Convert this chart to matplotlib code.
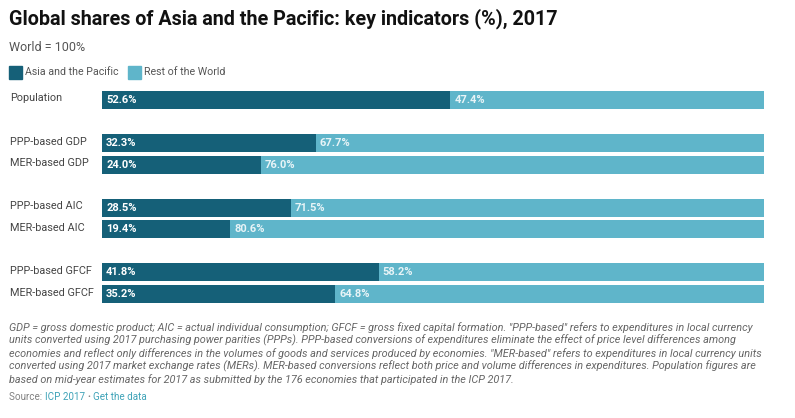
import matplotlib
matplotlib.use("Agg")
import matplotlib.pyplot as plt
from matplotlib.patches import Rectangle

W, H = 795, 418

labels = ["Population", "PPP-based GDP", "MER-based GDP", "PPP-based AIC",
          "MER-based AIC", "PPP-based GFCF", "MER-based GFCF"]
rows = [0, 2, 3, 5, 6, 8, 9]  # blank rows separate the groups
asia = [52.6, 32.3, 24.0, 28.5, 19.4, 41.8, 35.2]
rest = [47.4, 67.7, 76.0, 71.5, 80.6, 58.2, 64.8]
series_names = ["Asia and the Pacific", "Rest of the World"]

note_lines = [
    "GDP = gross domestic product; AIC = actual individual consumption; GFCF = gross fixed capital formation. \"PPP-based\" refers to expenditures in local currency",
    "units converted using 2017 purchasing power parities (PPPs). PPP-based conversions of expenditures eliminate the effect of price level differences among",
    "economies and reflect only differences in the volumes of goods and services produced by economies. \"MER-based\" refers to expenditures in local currency units",
    "converted using 2017 market exchange rates (MERs). MER-based conversions reflect both price and volume differences in expenditures. Population figures are",
    "based on mid-year estimates for 2017 as submitted by the 176 economies that participated in the ICP 2017.",
]

DARK = "#156078"
LIGHT = "#5fb5ca"
TEAL = "#3fa3b8"
plt.rcParams["font.family"] = ["Roboto", "DejaVu Sans"]

fig = plt.figure(figsize=(W / 100, H / 100), dpi=100, facecolor="white")

# bars
ax = fig.add_axes([102 / W, 1 - 304.8 / H, 662 / W, (304.8 - 89.2) / H])
ax.barh(rows, asia, height=0.835, color=DARK)
ax.barh(rows, rest, left=asia, height=0.835, color=LIGHT)
for r, a, b in zip(rows, asia, rest):
    ax.text(0.62, r, f"{a:.1f}%", color="white", fontsize=8, weight="bold", va="center", ha="left")
    ax.text(a + 0.62, r, f"{b:.1f}%", color="#e8f4f7", fontsize=8, weight="bold", va="center", ha="left")
ax.set_xlim(0, 100)
ax.set_ylim(9.5, -0.5)
ax.axis("off")


def px_text(x, y, s, **kw):
    return fig.text(x / W, 1 - y / H, s, va="center", ha="left", **kw)


# row labels
for r, name in zip(rows, labels):
    y = ax.transData.transform((0, r))[1]
    px_text(10, H - y - 1.5, name, fontsize=7.8, color="#444444")

px_text(9, 19, "Global shares of Asia and the Pacific: key indicators (%), 2017",
        fontsize=14.2, weight="bold", color="#111111")
px_text(9, 47.5, "World = 100%", fontsize=9, color="#555555")

# legend
for x0, col, name, tx in [(9, DARK, series_names[0], 25), (128, LIGHT, series_names[1], 144)]:
    fig.add_artist(Rectangle((x0 / W, 1 - 79 / H), 13 / W, 13 / H, color=col,
                             transform=fig.transFigure))
    px_text(tx, 72, name, fontsize=7.7, color="#555555")

# footnote
for i, line in enumerate(note_lines):
    px_text(9, 327.5 + i * 13, line, fontsize=7.8, style="italic", color="#666666")

s = px_text(9, 397, "Source: ", fontsize=7.1, color="#808080")
fig.canvas.draw()
r = fig.canvas.get_renderer()
x = s.get_window_extent(r).x1
s = px_text(x, 397, "ICP 2017", fontsize=7.1, color=TEAL)
x = s.get_window_extent(r).x1 + 3
s = px_text(x, 397, "•", fontsize=6, color="#808080")
x = s.get_window_extent(r).x1 + 2.5
px_text(x, 397, "Get the data", fontsize=7.1, color=TEAL)

fig.savefig("out.png", dpi=100)
